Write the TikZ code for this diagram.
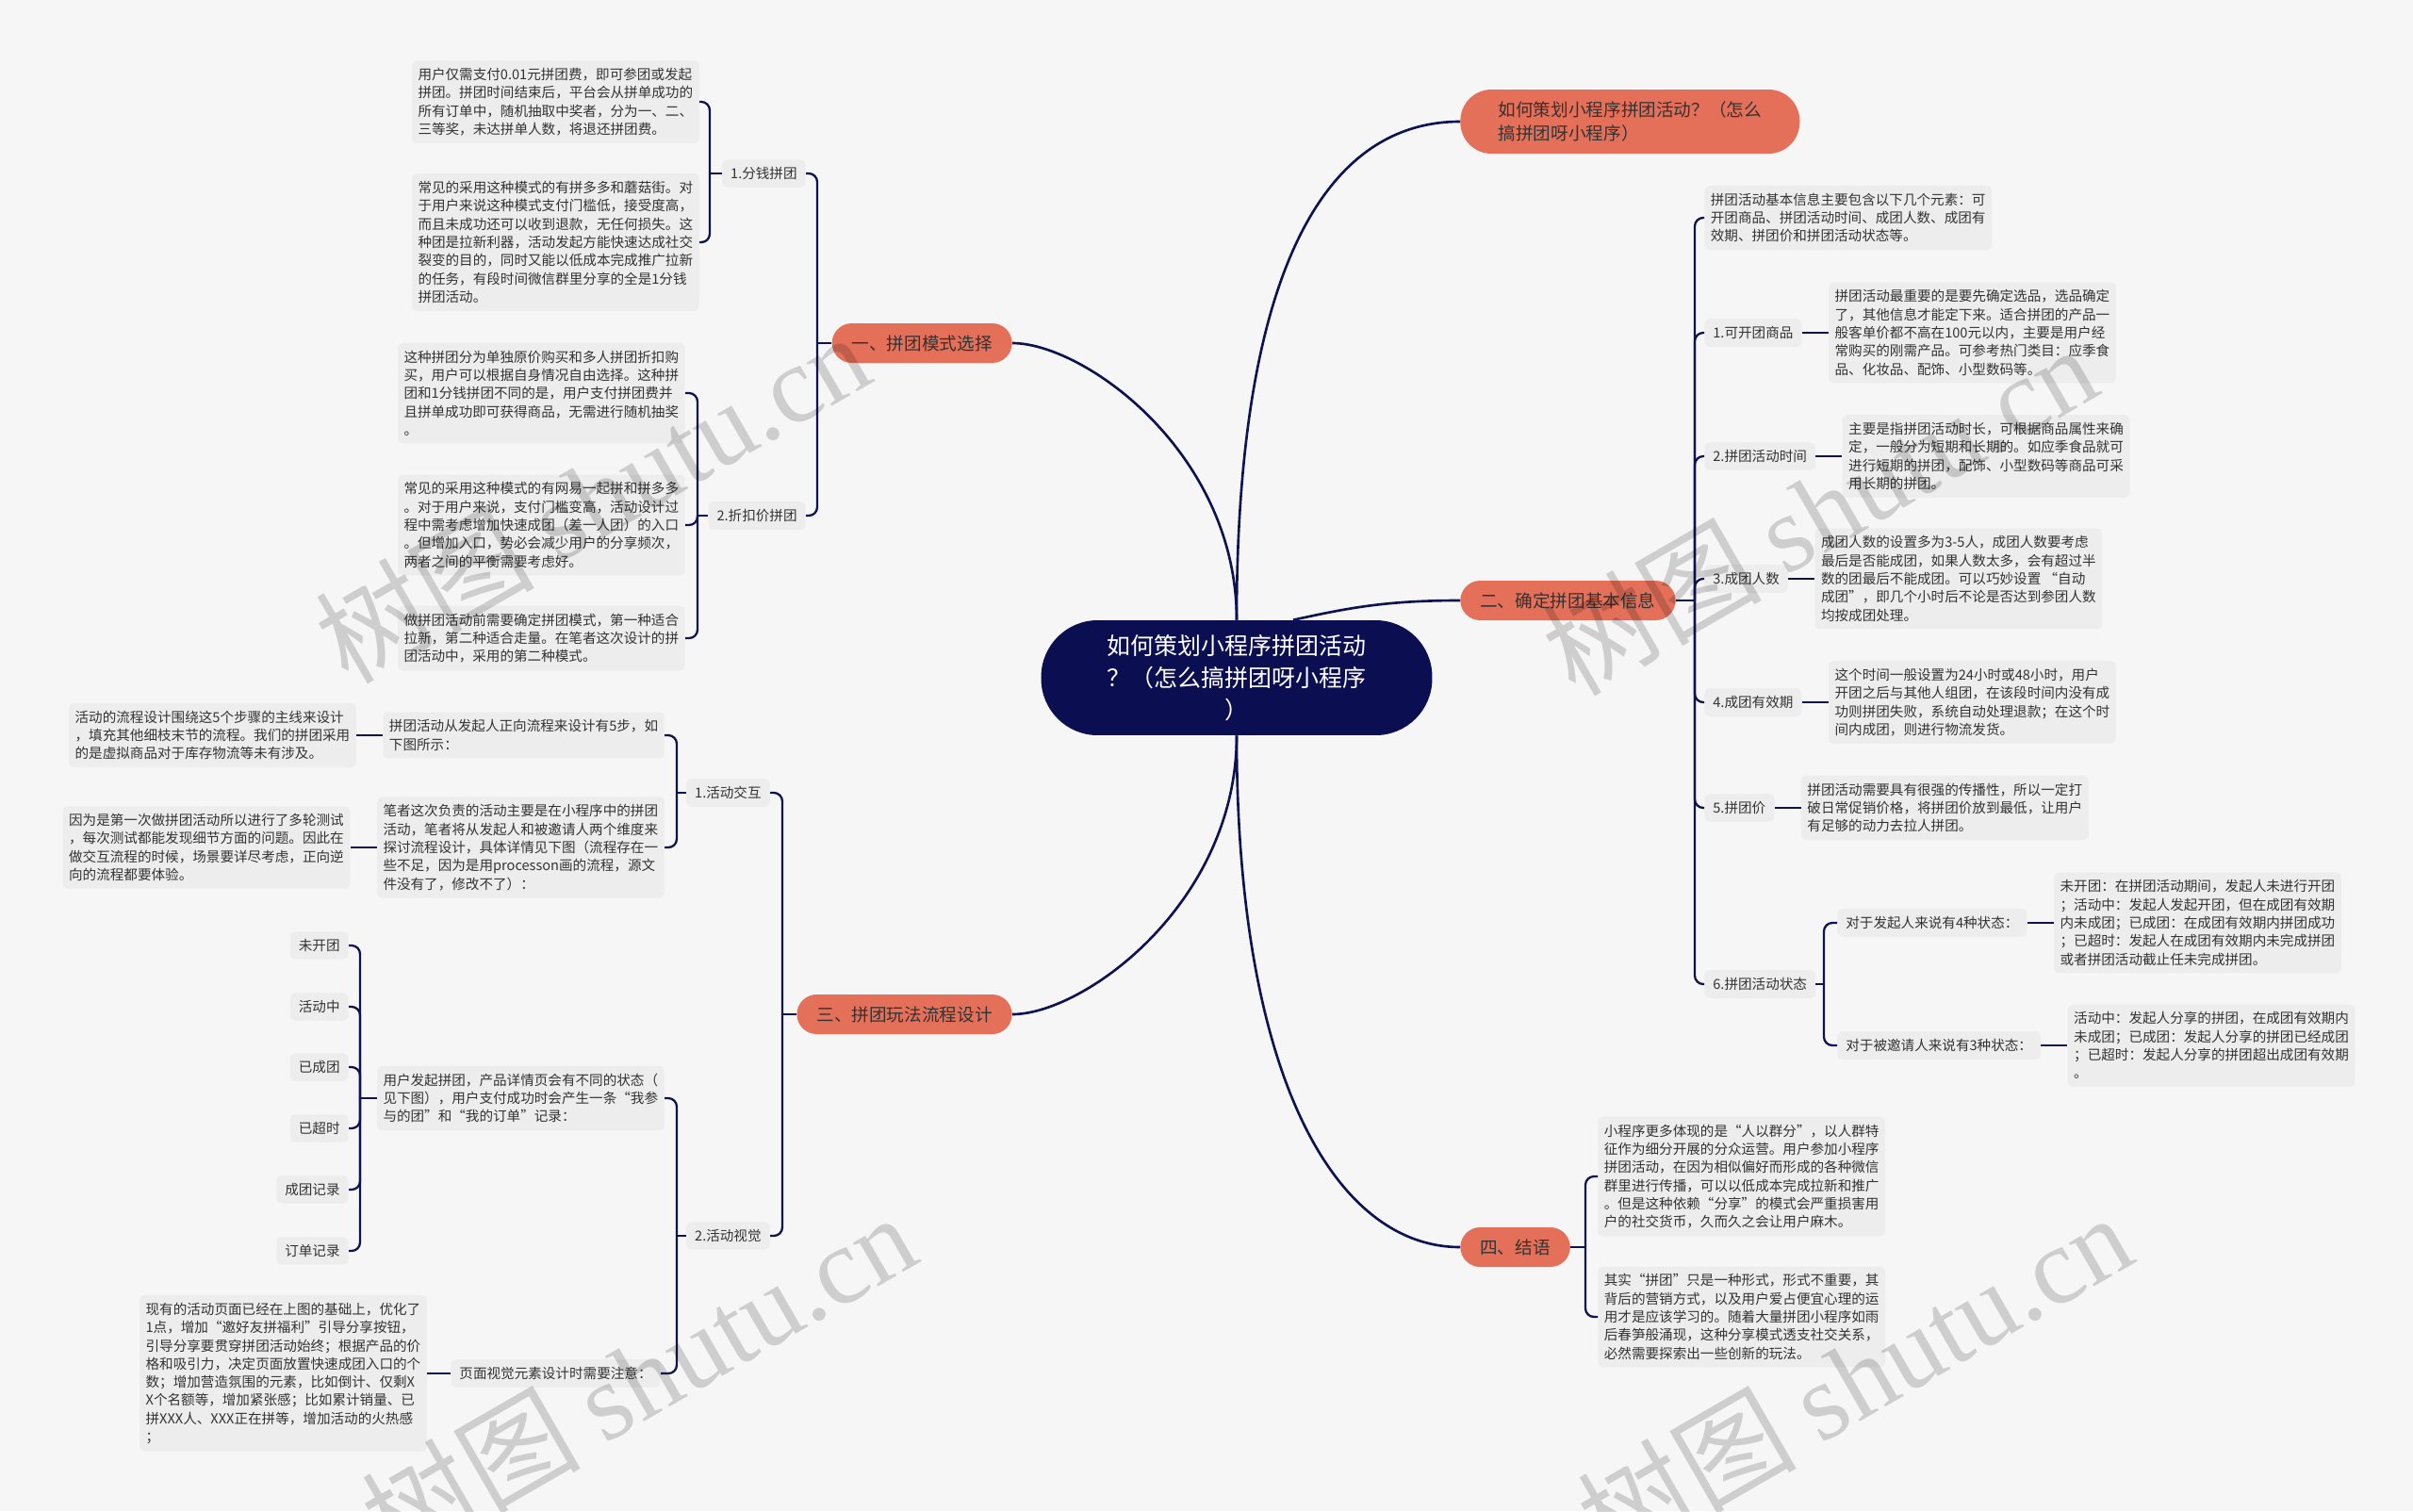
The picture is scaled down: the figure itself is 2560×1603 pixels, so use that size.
\documentclass[tikz,border=0pt]{standalone}
\usepackage{fontspec}
\setmainfont{Noto Sans CJK SC}
\newfontfamily\wmlatin{Liberation Serif}
\usepackage{xcolor}
\definecolor{bgcol}{HTML}{F6F6F6}
\definecolor{boxcol}{HTML}{EDEDED}
\definecolor{linecol}{HTML}{0E1250}
\definecolor{coralcol}{HTML}{E4705A}
\definecolor{rootcol}{HTML}{0B0F52}
\definecolor{textcol}{HTML}{333333}
\usetikzlibrary{positioning}

\tikzset{
  central/.style={fill=rootcol, text=white, align=center, rounded corners=1.2cm, minimum width=8.3cm, minimum height=2.44cm, inner sep=0pt, font=\fontsize{14.2}{19.3}\selectfont},
  topic/.style={fill=coralcol, text=textcol, rounded corners=0.42cm, minimum height=0.84cm, inner xsep=0.42cm, inner ysep=0pt, font=\fontsize{10.6}{14.2}\selectfont},
  itembox/.style={fill=boxcol, text=textcol, rounded corners=0.1cm, inner xsep=0.18cm, inner ysep=0.16cm, font=\fontsize{8.3}{11}\selectfont},
  detail/.style={itembox, align=left, inner xsep=0.13cm, inner ysep=0.16cm},
  trunk/.style={draw=linecol, line width=1.5pt},
  link/.style={draw=linecol, line width=1.3pt},
  hook/.style={link, rounded corners=0.18cm},
  wmark/.style={text=black, opacity=0.16, rotate=30, font=\fontsize{66}{66}\selectfont}
}

\begin{document}
\begin{tikzpicture}[x=0.02cm, y=-0.02cm, node distance=0.56cm]
  \fill[bgcol] (0,0) rectangle (2560,1603);
  \useasboundingbox (0,0) rectangle (2560,1603);

  % centre and main topics
  \node[central] (root) at (1312,719) {如何策划小程序拼团活动\\？（怎么搞拼团呀小程序\\）};
  \node[topic, anchor=west, align=left, inner xsep=0.6cm, minimum width=7.2cm, minimum height=1.36cm, rounded corners=0.66cm] (t0) at (1549,129) {如何策划小程序拼团活动？（怎么\\搞拼团呀小程序）};
  \node[topic, anchor=east] (b1) at (1074,364) {一、拼团模式选择};
  \node[topic, anchor=west] (b2) at (1549,637) {二、确定拼团基本信息};
  \node[topic, anchor=east] (b3) at (1074,1076) {三、拼团玩法流程设计};
  \node[topic, anchor=west] (b4) at (1549,1323) {四、结语};

  \draw[trunk] (root.north) .. controls (1312,300) and (1400,129) .. (t0.west);
  \draw[trunk] (root.north) .. controls (1312,480) and (1150,364) .. (b1.east);
  \draw[trunk] ([xshift=1.2cm]root.north) .. controls (1430,645) and (1470,637) .. (b2.west);
  \draw[trunk] (root.south) .. controls (1312,958) and (1150,1076) .. (b3.east);
  \draw[trunk] (root.south) .. controls (1312,1150) and (1420,1323) .. (b4.west);

  % 一、拼团模式选择
  \node[itembox, anchor=east] (n11) at (855,184) {1.分钱拼团};
  \node[itembox, anchor=east] (n12) at (855,547) {2.折扣价拼团};
  \coordinate (j1) at (867,364);
  \draw[link] (b1.west) -- (j1);
  \draw[hook] (j1) |- (n11.east);
  \draw[hook] (j1) |- (n12.east);

  \node[detail, anchor=east] (a1) at (742,108) {用户仅需支付0.01元拼团费，即可参团或发起\\拼团。拼团时间结束后，平台会从拼单成功的\\所有订单中，随机抽取中奖者，分为一、二、\\三等奖，未达拼单人数，将退还拼团费。};
  \node[detail, anchor=east] (a2) at (742,257) {常见的采用这种模式的有拼多多和蘑菇街。对\\于用户来说这种模式支付门槛低，接受度高，\\而且未成功还可以收到退款，无任何损失。这\\种团是拉新利器，活动发起方能快速达成社交\\裂变的目的，同时又能以低成本完成推广拉新\\的任务，有段时间微信群里分享的全是1分钱\\拼团活动。};
  \coordinate (j11) at (753,184);
  \draw[link] (n11.west) -- (j11);
  \draw[hook] (j11) |- (a1.east);
  \draw[hook] (j11) |- (a2.east);

  \node[detail, anchor=east] (c1) at (727,417) {这种拼团分为单独原价购买和多人拼团折扣购\\买，用户可以根据自身情况自由选择。这种拼\\团和1分钱拼团不同的是，用户支付拼团费并\\且拼单成功即可获得商品，无需进行随机抽奖\\。};
  \node[detail, anchor=east] (c2) at (727,557) {常见的采用这种模式的有网易一起拼和拼多多\\。对于用户来说，支付门槛变高，活动设计过\\程中需考虑增加快速成团（差一人团）的入口\\。但增加入口，势必会减少用户的分享频次，\\两者之间的平衡需要考虑好。};
  \node[detail, anchor=east] (c3) at (727,677) {做拼团活动前需要确定拼团模式，第一种适合\\拉新，第二种适合走量。在笔者这次设计的拼\\团活动中，采用的第二种模式。};
  \coordinate (j12) at (740,547);
  \draw[link] (n12.west) -- (j12);
  \draw[hook] (j12) |- (c1.east);
  \draw[hook] (j12) |- (c2.east);
  \draw[hook] (j12) |- (c3.east);

  % 三、拼团玩法流程设计
  \node[itembox, anchor=east] (n31) at (817,841) {1.活动交互};
  \node[itembox, anchor=east] (n32) at (817,1311) {2.活动视觉};
  \coordinate (j3) at (830,1076);
  \draw[link] (b3.west) -- (j3);
  \draw[hook] (j3) |- (n31.east);
  \draw[hook] (j3) |- (n32.east);

  \node[detail, anchor=east] (f1) at (705,780) {拼团活动从发起人正向流程来设计有5步，如\\下图所示：};
  \node[detail, anchor=east] (f2) at (705,899) {笔者这次负责的活动主要是在小程序中的拼团\\活动，笔者将从发起人和被邀请人两个维度来\\探讨流程设计，具体详情见下图（流程存在一\\些不足，因为是用processon画的流程，源文\\件没有了，修改不了）：};
  \node[detail, left=of f1] (h1) {活动的流程设计围绕这5个步骤的主线来设计\\，填充其他细枝末节的流程。我们的拼团采用\\的是虚拟商品对于库存物流等未有涉及。};
  \node[detail, left=of f2] (h2) {因为是第一次做拼团活动所以进行了多轮测试\\，每次测试都能发现细节方面的问题。因此在\\做交互流程的时候，场景要详尽考虑，正向逆\\向的流程都要体验。};
  \coordinate (j31) at (718,841);
  \draw[link] (n31.west) -- (j31);
  \draw[hook] (j31) |- (f1.east);
  \draw[hook] (j31) |- (f2.east);
  \draw[link] (f1.west) -- (h1.east);
  \draw[link] (f2.west) -- (h2.east);

  \node[detail, anchor=east] (p1) at (705,1165) {用户发起拼团，产品详情页会有不同的状态（\\见下图），用户支付成功时会产生一条“我参\\与的团”和“我的订单”记录：};
  \node[itembox, anchor=east] (q1) at (701,1457) {页面视觉元素设计时需要注意：};
  \node[detail, left=0.5cm of q1] (r1) {现有的活动页面已经在上图的基础上，优化了\\1点，增加“邀好友拼福利”引导分享按钮，\\引导分享要贯穿拼团活动始终；根据产品的价\\格和吸引力，决定页面放置快速成团入口的个\\数；增加营造氛围的元素，比如倒计、仅剩X\\X个名额等，增加紧张感；比如累计销量、已\\拼XXX人、XXX正在拼等，增加活动的火热感\\；};
  \coordinate (j32) at (718,1311);
  \draw[link] (n32.west) -- (j32);
  \draw[hook] (j32) |- (p1.east);
  \draw[hook] (j32) |- (q1.east);
  \draw[link] (q1.west) -- (r1.east);

  \node[itembox, anchor=east] (st1) at (370,1003) {未开团};
  \node[itembox, anchor=east] (st2) at (370,1068) {活动中};
  \node[itembox, anchor=east] (st3) at (370,1132) {已成团};
  \node[itembox, anchor=east] (st4) at (370,1197) {已超时};
  \node[itembox, anchor=east] (st5) at (370,1262) {成团记录};
  \node[itembox, anchor=east] (st6) at (370,1327) {订单记录};
  \coordinate (j321) at (382,1165);
  \draw[link] (p1.west) -- (j321);
  \draw[hook] (j321) |- (st1.east);
  \draw[hook] (j321) |- (st2.east);
  \draw[hook] (j321) |- (st3.east);
  \draw[hook] (j321) |- (st4.east);
  \draw[hook] (j321) |- (st5.east);
  \draw[hook] (j321) |- (st6.east);

  % 二、确定拼团基本信息
  \node[detail, anchor=west] (i0) at (1808,231) {拼团活动基本信息主要包含以下几个元素：可\\开团商品、拼团活动时间、成团人数、成团有\\效期、拼团价和拼团活动状态等。};
  \node[itembox, anchor=west] (m1) at (1808,353) {1.可开团商品};
  \node[itembox, anchor=west] (m2) at (1808,484) {2.拼团活动时间};
  \node[itembox, anchor=west] (m3) at (1808,614) {3.成团人数};
  \node[itembox, anchor=west] (m4) at (1808,745) {4.成团有效期};
  \node[itembox, anchor=west] (m5) at (1808,857) {5.拼团价};
  \node[itembox, anchor=west] (m6) at (1808,1044) {6.拼团活动状态};
  \coordinate (j2) at (1798,637);
  \draw[link] (b2.east) -- (j2);
  \draw[hook] (j2) |- (i0.west);
  \draw[hook] (j2) |- (m1.west);
  \draw[hook] (j2) |- (m2.west);
  \draw[hook] (j2) |- (m3.west);
  \draw[hook] (j2) |- (m4.west);
  \draw[hook] (j2) |- (m5.west);
  \draw[hook] (j2) |- (m6.west);

  \node[detail, right=of m1] (d1) {拼团活动最重要的是要先确定选品，选品确定\\了，其他信息才能定下来。适合拼团的产品一\\般客单价都不高在100元以内，主要是用户经\\常购买的刚需产品。可参考热门类目：应季食\\品、化妆品、配饰、小型数码等。};
  \node[detail, right=of m2] (d2) {主要是指拼团活动时长，可根据商品属性来确\\定，一般分为短期和长期的。如应季食品就可\\进行短期的拼团，配饰、小型数码等商品可采\\用长期的拼团。};
  \node[detail, right=of m3] (d3) {成团人数的设置多为3-5人，成团人数要考虑\\最后是否能成团，如果人数太多，会有超过半\\数的团最后不能成团。可以巧妙设置 “自动\\成团”，即几个小时后不论是否达到参团人数\\均按成团处理。};
  \node[detail, right=of m4] (d4) {这个时间一般设置为24小时或48小时，用户\\开团之后与其他人组团，在该段时间内没有成\\功则拼团失败，系统自动处理退款；在这个时\\间内成团，则进行物流发货。};
  \node[detail, right=of m5] (d5) {拼团活动需要具有很强的传播性，所以一定打\\破日常促销价格，将拼团价放到最低，让用户\\有足够的动力去拉人拼团。};
  \draw[link] (m1.east) -- (d1.west);
  \draw[link] (m2.east) -- (d2.west);
  \draw[link] (m3.east) -- (d3.west);
  \draw[link] (m4.east) -- (d4.west);
  \draw[link] (m5.east) -- (d5.west);

  \node[itembox, anchor=west] (s1) at (1949,979) {对于发起人来说有4种状态：};
  \node[itembox, anchor=west] (s2) at (1949,1109) {对于被邀请人来说有3种状态：};
  \coordinate (j26) at (1935,1044);
  \draw[link] (m6.east) -- (j26);
  \draw[hook] (j26) |- (s1.west);
  \draw[hook] (j26) |- (s2.west);
  \node[detail, right=of s1] (e1) {未开团：在拼团活动期间，发起人未进行开团\\；活动中：发起人发起开团，但在成团有效期\\内未成团；已成团：在成团有效期内拼团成功\\；已超时：发起人在成团有效期内未完成拼团\\或者拼团活动截止任未完成拼团。};
  \node[detail, right=of s2] (e2) {活动中：发起人分享的拼团，在成团有效期内\\未成团；已成团：发起人分享的拼团已经成团\\；已超时：发起人分享的拼团超出成团有效期\\。};
  \draw[link] (s1.east) -- (e1.west);
  \draw[link] (s2.east) -- (e2.west);

  % 四、结语
  \node[detail, anchor=west] (k1) at (1695,1248) {小程序更多体现的是“人以群分”，以人群特\\征作为细分开展的分众运营。用户参加小程序\\拼团活动，在因为相似偏好而形成的各种微信\\群里进行传播，可以以低成本完成拉新和推广\\。但是这种依赖“分享”的模式会严重损害用\\户的社交货币，久而久之会让用户麻木。};
  \node[detail, anchor=west] (k2) at (1695,1397) {其实“拼团”只是一种形式，形式不重要，其\\背后的营销方式，以及用户爱占便宜心理的运\\用才是应该学习的。随着大量拼团小程序如雨\\后春笋般涌现，这种分享模式透支社交关系，\\必然需要探索出一些创新的玩法。};
  \coordinate (j4) at (1682,1323);
  \draw[link] (b4.east) -- (j4);
  \draw[hook] (j4) |- (k1.west);
  \draw[hook] (j4) |- (k2.west);

  % watermarks
  \node[wmark] (w1) at (628,527) {树图 {\wmlatin shutu.cn}};
  \node[wmark] (w2) at (1930,540) {树图 {\wmlatin shutu.cn}};
  \node[wmark] (w3) at (677,1461) {树图 {\wmlatin shutu.cn}};
  \node[wmark] (w4) at (1967,1461) {树图 {\wmlatin shutu.cn}};
\end{tikzpicture}
\end{document}
